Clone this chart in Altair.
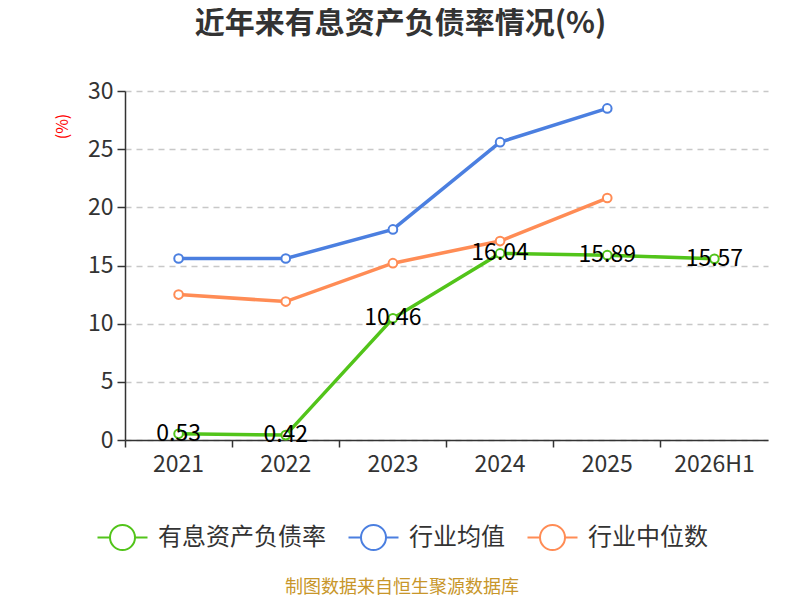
import altair as alt
import pandas as pd

years = ["2021", "2022", "2023", "2024", "2025", "2026H1"]
debt_ratio = [0.53, 0.42, 10.46, 16.04, 15.89, 15.57]
industry_avg = [15.6, 15.6, 18.1, 25.6, 28.5, None]
industry_median = [12.5, 11.9, 15.2, 17.1, 20.8, None]

series_names = ["有息资产负债率", "行业均值", "行业中位数"]
colors = ["#52c41a", "#4b7fe0", "#ff8c55"]

rows = []
for name, vals in zip(series_names, [debt_ratio, industry_avg, industry_median]):
    for y, v in zip(years, vals):
        if v is not None:
            rows.append({"year": y, "series": name, "value": v})
df = pd.DataFrame(rows)
labels_df = df[df.series == series_names[0]].copy()
labels_df["label"] = labels_df["value"].map(lambda v: f"{v:.2f}")

FONT = "Noto Sans CJK SC"
legend_symbol = "M-2,0L-1,0M1,0L2,0M1,0A1,1 0 1,1 -1,0A1,1 0 1,1 1,0"

x_enc = alt.X(
    "year:N",
    sort=years,
    scale=alt.Scale(type="band", paddingInner=0, paddingOuter=0),
    axis=alt.Axis(
        title=None,
        bandPosition=0,
        labelFontSize=23,
        labelColor="#333333",
        labelFont=FONT,
        labelPadding=6,
        labelAngle=0,
        tickColor="#333333",
        tickSize=7,
        tickWidth=1.5,
        domainColor="#333333",
        domainWidth=1.5,
        grid=False,
    ),
)
y_enc = alt.Y(
    "value:Q",
    scale=alt.Scale(domain=[0, 30], nice=False),
    axis=alt.Axis(
        values=[0, 5, 10, 15, 20, 25, 30],
        title="(%)",
        titleColor="#ff0000",
        titleFontSize=16,
        titleFontWeight="normal",
        titleFont=FONT,
        titleX=-63,
        titleY=35,
        titleAngle=-90,
        titleAlign="center",
        titleBaseline="middle",
        labelFontSize=23,
        labelColor="#333333",
        labelFont=FONT,
        labelPadding=4,
        tickColor="#333333",
        tickSize=8,
        tickWidth=1.5,
        domainColor="#333333",
        domainWidth=1.5,
        gridColor="#c8c8c8",
        gridDash=[6, 5],
        gridWidth=1.5,
    ),
)
color_enc = alt.Color(
    "series:N",
    sort=series_names,
    scale=alt.Scale(domain=series_names, range=colors),
    legend=alt.Legend(
        title=None,
        orient="none",
        legendX=-16,
        legendY=433,
        direction="horizontal",
        symbolType=legend_symbol,
        symbolSize=625,
        symbolStrokeWidth=2,
        symbolFillColor="#ffffff",
        labelFontSize=24,
        labelFont=FONT,
        labelColor="#333333",
        labelOffset=22,
        labelLimit=0,
        columnPadding=18,
    ),
)

base = alt.Chart(df)
lines = base.mark_line(strokeWidth=3.5).encode(x=x_enc, y=y_enc, color=color_enc)
points = base.mark_point(filled=True, fill="white", size=75, strokeWidth=2, opacity=1).encode(
    x=x_enc, y=y_enc, stroke=alt.Stroke("series:N", scale=alt.Scale(domain=series_names, range=colors), legend=None)
)
labels = alt.Chart(labels_df).mark_text(
    fontSize=23, font=FONT, color="#000000", baseline="middle", align="center"
).encode(x=x_enc, y=y_enc, text="label:N")

footer = alt.Chart(pd.DataFrame({"t": ["制图数据来自恒生聚源数据库"]})).mark_text(
    fontSize=18, font=FONT, color="#c8962a", align="center", baseline="middle"
).encode(x=alt.value(277), y=alt.value(497), text="t:N")

chart = (
    alt.layer(lines, points, labels, footer)
    .properties(
        width=643,
        height=349,
        autosize=alt.AutoSizeParams(type="none"),
        padding={"left": 117, "top": 83, "right": 24, "bottom": 158},
        title=alt.TitleParams(
            "近年来有息资产负债率情况(%)",
            fontSize=30,
            font=FONT,
            fontWeight="bold",
            color="#333333",
            anchor="middle",
            dx=-46,
            offset=41,
        ),
    )
    .configure_view(stroke=None)
)

chart.save("out.html", embed_options={"renderer": "svg", "actions": False})
